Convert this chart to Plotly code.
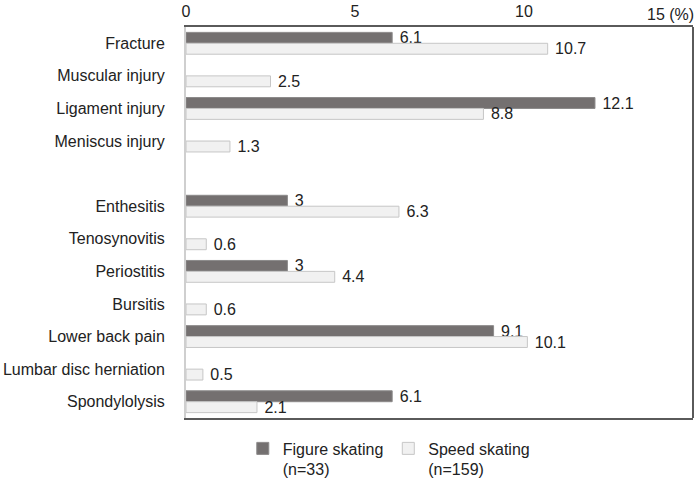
import plotly.graph_objects as go

# Categories top to bottom (blank slot separates the two groups)
categories = ['Fracture', 'Muscular injury', 'Ligament injury', 'Meniscus injury', ' ',
              'Enthesitis', 'Tenosynovitis', 'Periostitis', 'Bursitis',
              'Lower back pain', 'Lumbar disc herniation', 'Spondylolysis']
figure_skating = [6.1, None, 12.1, None, None, 3, None, 3, None, 9.1, None, 6.1]
speed_skating = [10.7, 2.5, 8.8, 1.3, None, 6.3, 0.6, 4.4, 0.6, 10.1, 0.5, 2.1]
tick_vals = [0, 5, 10]
tick_text = ['0', '5', '10']

def labels(vals):
    # leading nbsp widens the gap between bar end and value
    return ['' if v is None else '\u00a0' + f'{v:g}' for v in vals]

fig = go.Figure()
fig.add_trace(go.Bar(y=categories, x=figure_skating, orientation='h',
                     name='Figure skating<br>(n=33)',
                     marker=dict(color='#747070', line=dict(color='#8c8a8a', width=1)),
                     text=labels(figure_skating), textposition='outside',
                     constraintext='none',
                     textfont=dict(size=16, color='#222'), cliponaxis=False))
fig.add_trace(go.Bar(y=categories, x=speed_skating, orientation='h',
                     name='Speed skating<br>(n=159)',
                     marker=dict(color='#f1f1f1', line=dict(color='#c6c6c6', width=1)),
                     text=labels(speed_skating), textposition='outside',
                     constraintext='none',
                     textfont=dict(size=16, color='#222'), cliponaxis=False))

fig.update_layout(
    width=697, height=478,
    margin=dict(l=186, r=4, t=27, b=60, autoexpand=False),
    barmode='group', bargap=0.33, bargroupgap=0,
    plot_bgcolor='white', paper_bgcolor='white',
    font=dict(family='Liberation Sans, Arial, sans-serif', size=16, color='#222'),
    xaxis=dict(side='top', range=[0, 15], tickvals=tick_vals, ticktext=tick_text,
               showgrid=False, zeroline=False, showline=True, mirror=True,
               linecolor='#5a5a5a', linewidth=2, ticks='', automargin=False,
               ticklabelstandoff=2),
    yaxis=dict(autorange='reversed', showgrid=False, zeroline=False,
               showline=True, linecolor='#cfcfcf', linewidth=2, ticks='',
               ticklabelstandoff=16, automargin=False),
    legend=dict(orientation='h', x=0.112, y=-0.0345, xanchor='left', yanchor='top',
                font=dict(size=16), traceorder='normal', itemwidth=30,
                valign='top', tracegroupgap=0),
    showlegend=True,
)

# right frame edge
fig.add_shape(type='line', xref='paper', yref='paper', x0=1, x1=1, y0=0, y1=1,
              line=dict(color='#5a5a5a', width=2))
# last tick label carries the unit
fig.add_annotation(text='15 (%)', xref='paper', yref='paper', x=1.006, y=1,
                   xanchor='right', yanchor='bottom', yshift=2, showarrow=False,
                   font=dict(size=16, color='#222'))

fig.write_html('out.html', config={'displayModeBar': False},
               post_script="document.body.style.margin='0';")
